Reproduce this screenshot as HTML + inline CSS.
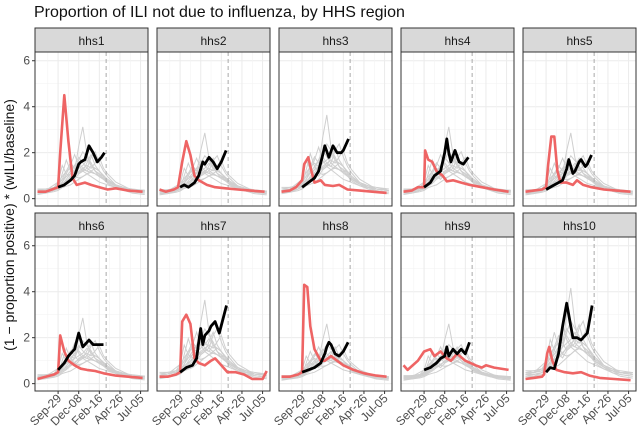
<!DOCTYPE html>
<html><head><meta charset="utf-8">
<style>
body{margin:0;background:#fff;font-family:"Liberation Sans",sans-serif;}
svg text{font-family:"Liberation Sans",sans-serif;}
</style></head>
<body>
<svg id="c" width="640" height="435" xmlns="http://www.w3.org/2000/svg">
<text x="34" y="17" font-size="16" fill="#111">Proportion of ILI not due to influenza, by HHS region</text>
<text transform="translate(14,225) rotate(-90)" text-anchor="middle" font-size="14" fill="#111">(1 − proportion positive) * (wILI/baseline)</text>
</svg>
<script>
const regions = ['hhs1','hhs2','hhs3','hhs4','hhs5','hhs6','hhs7','hhs8','hhs9','hhs10'];
const xTickWeeks = [0,10,20,30,40];
const xTickLabels = ['Sep-29','Dec-08','Feb-16','Apr-26','Jul-05'];
const yTicks = [0,2,4,6];
const dashWeek = 23.3;
const redSeries = [
 [[-10,.3],[-6,.3],[-3,.4],[0,.5],[1,2],[3,4.5],[5,2.5],[7,.9],[9,.6],[13,.7],[16,.6],[20,.5],[24,.4],[28,.45],[34,.35],[41,.3]],
 [[-10,.4],[-7,.3],[-3,.4],[-1,.5],[1,1.6],[3,2.5],[5,1.9],[7,1.0],[9,.8],[13,.6],[17,.5],[22,.45],[28,.4],[34,.35],[41,.3]],
 [[-10,.3],[-6,.35],[-3,.5],[0,.8],[1,1.5],[3,1.8],[4.5,1.2],[6,.7],[9,.8],[11,.6],[15,.55],[18,.6],[22,.4],[28,.35],[34,.3],[41,.25]],
 [[-10,.3],[-6,.35],[-3,.5],[0,.5],[0.5,2.1],[2,1.7],[4,1.6],[6,1.2],[9,1.0],[11,.75],[14,.8],[18,.7],[22,.6],[28,.5],[34,.4],[41,.3]],
 [[-10,.3],[-6,.35],[-2,.4],[0,.5],[1,1.5],[2.5,2.7],[4,2.7],[5.5,1.2],[7,.7],[10,.7],[13,.6],[15,.8],[18,.6],[22,.5],[28,.4],[34,.35],[41,.3]],
 [[-10,.2],[-6,.3],[-2,.4],[0,.5],[1,2.1],[3,1.4],[5,1.0],[8,.8],[11,.65],[14,.6],[18,.55],[22,.45],[28,.35],[34,.3],[41,.25]],
 [[-10,.3],[-6,.3],[-2,.4],[0,.5],[1,2.7],[3,3.0],[5,2.6],[7,1.1],[9,.9],[12,.8],[15,1.0],[17,1.1],[20,.8],[23,.5],[27,.5],[31,.4],[35,.2],[40,.2],[42,.55]],
 [[-10,.3],[-6,.3],[-2,.4],[0,.5],[1,4.3],[2.5,4.2],[4,2.5],[6,1.5],[9,1.0],[11,1.0],[14,1.2],[17,1.0],[20,.8],[25,.6],[30,.45],[36,.35],[41,.3]],
 [[-10,.8],[-8,.6],[-3,1.0],[0,1.4],[3,1.5],[5,1.2],[8,1.4],[11,1.1],[13,1.0],[16,1.3],[20,1.0],[25,.8],[28,.7],[30,.8],[34,.7],[41,.6]],
 [[-10,.2],[-6,.25],[-2,.3],[-1,.4],[0.5,1.3],[1.5,1.6],[3,1.0],[5,.6],[9,.5],[13,.45],[17,.5],[21,.35],[26,.25],[33,.2],[41,.15]]
];
const blackSeries = [
 [[0,.5],[3,.6],[6,.8],[8,1.0],[10,1.5],[11,1.6],[13,1.7],[15,2.3],[17,2.0],[19,1.6],[21,1.8],[22.5,2.0]],
 [[0,.5],[2,.6],[4,.5],[7,.7],[9,1.0],[11,1.6],[12,1.5],[14,1.8],[16,1.6],[18,1.3],[20,1.6],[22.3,2.1]],
 [[0,.5],[3,.7],[6,.9],[8,1.2],[10,1.9],[11,2.3],[13,1.8],[15,2.3],[17,2.0],[19,2.0],[20,2.1],[22.5,2.6]],
 [[0,.5],[3,.7],[5,1.0],[8,1.2],[10,2.0],[11,2.6],[12,2.0],[13,1.6],[15,2.1],[17,1.6],[19,1.5],[21.5,1.8]],
 [[0,.4],[3,.55],[6,.7],[8,.8],[10,1.3],[11,1.7],[13,1.1],[14,1.2],[16,1.6],[17,1.7],[19,1.4],[20,1.5],[22,1.9]],
 [[0,.6],[3,.9],[5,1.2],[7,1.4],[8,1.5],[10,2.2],[12,1.6],[14,1.8],[15,1.9],[17,1.7],[20,1.7],[22,1.7]],
 [[0,.5],[3,.7],[6,.8],[8,1.1],[9,1.8],[10,2.4],[11,1.7],[12,2.1],[14,2.3],[15,2.5],[17,2.7],[19,2.2],[22.5,3.4]],
 [[0,.5],[3,.6],[6,.7],[9,.9],[11,1.3],[12,1.6],[13,1.8],[14,1.7],[16,1.3],[18,1.2],[20,1.4],[22.3,1.8]],
 [[0,.6],[3,.7],[6,.9],[8,1.1],[10,1.2],[11,1.6],[12,1.2],[14,1.5],[16,1.3],[18,1.5],[20,1.3],[22,1.8]],
 [[0,.5],[2,.7],[4,.65],[6,1.3],[8,2.5],[10,3.5],[12,2.5],[13,2.0],[15,2.0],[17,1.9],[20,2.2],[22.3,3.4]]
];
const greyWeeks = [-10,-6,-2,0,2,4,6,8,10,12,14,16,18,20,22,24,28,32,36,42];
const greyShapes = [
 [.25,.3,.35,.5,.7,.8,.9,1.0,1.1,1.2,1.4,1.2,1.0,.9,.8,.6,.45,.35,.3,.25],
 [.2,.25,.3,.4,.5,.6,.8,1.0,1.4,1.7,1.5,1.3,1.0,.8,.7,.55,.4,.3,.25,.2],
 [.3,.3,.4,.6,1.2,.9,.8,.7,.9,1.0,1.1,1.5,1.7,1.3,1.0,.8,.5,.4,.3,.3],
 [.2,.2,.3,.35,.45,.55,.7,.8,1.0,1.1,1.2,1.1,1.3,1.5,1.1,.9,.6,.45,.3,.25],
 [.35,.35,.4,.45,.6,.9,1.2,1.6,1.2,1.0,.9,.8,.7,.6,.55,.5,.4,.35,.3,.3],
 [.15,.2,.25,.3,.4,.45,.5,.6,.7,.8,.9,.95,.9,.8,.7,.6,.45,.3,.2,.15],
 [.3,.3,.5,.6,.8,1.0,1.1,1.0,1.9,2.6,1.6,1.2,1.0,.9,.7,.6,.45,.35,.3,.3],
 [.25,.3,.35,.4,.6,.8,1.0,1.2,1.3,1.1,1.0,1.2,1.1,1.0,.85,.7,.5,.35,.3,.25],
 [.3,.35,.4,.5,.7,1.0,1.3,1.1,.9,1.0,1.3,1.6,1.2,1.0,.8,.65,.5,.4,.3,.3],
 [.2,.25,.3,.4,.5,.7,.9,1.2,1.5,1.3,1.1,1.0,.9,.85,.75,.6,.45,.35,.25,.2],
 [.3,.3,.35,.45,.55,.65,.75,.85,.95,1.05,1.0,.95,.9,.8,.7,.6,.5,.4,.35,.3],
 [.25,.25,.3,.4,.9,1.4,1.0,.8,.75,.8,.9,1.0,1.1,1.0,.8,.6,.45,.35,.3,.25]
];
const greyScale = [1.2,1.1,1.4,1.2,1.1,1.1,1.4,1.0,1.0,1.6];

const NS='http://www.w3.org/2000/svg';
const svg=document.getElementById('c');
function mk(t,a,p){const e=document.createElementNS(NS,t);for(const k in a)e.setAttribute(k,a[k]);(p||svg).appendChild(e);return e;}
const colX=[35,157,279,401,523], PW=113;
const rows=[{st:28,top:52,bot:206},{st:213,top:237,bot:391}];
const wMin=-11.2,wMax=43.6, vMin=-0.32, vMax=6.38;
for(let i=0;i<10;i++){
  const r=rows[Math.floor(i/5)], x0=colX[i%5];
  const g=mk('g',{});
  
  
  const X=w=>x0+(w-wMin)/(wMax-wMin)*PW;
  const Y=v=>r.bot-(v-vMin)/(vMax-vMin)*(r.bot-r.top);
  const strip=mk('rect',{x:x0,y:r.st,width:PW,height:r.top-r.st,fill:'#d9d9d9',stroke:'#333','stroke-width':1},g);
  
  
  const st=mk('text',{x:x0+PW/2,y:r.st+17,'text-anchor':'middle','font-size':12,fill:'#1a1a1a'},g);
  st.textContent=regions[i];
  
  
  mk('rect',{x:x0,y:r.top,width:PW,height:r.bot-r.top,fill:'#fff'},g);
  for(let k=0;k<yTicks.length;k++){
    mk('line',{x1:x0,x2:x0+PW,y1:Y(yTicks[k]),y2:Y(yTicks[k]),stroke:'#ebebeb','stroke-width':1},g);
    if(k<yTicks.length-1){const m=(yTicks[k]+yTicks[k+1])/2;mk('line',{x1:x0,x2:x0+PW,y1:Y(m),y2:Y(m),stroke:'#f3f3f3','stroke-width':.6},g);}
  }
  for(let k=-1;k<xTickWeeks.length;k++){
    const m=(k<0?xTickWeeks[0]-5:xTickWeeks[k]+5);
    if(m>wMin&&m<wMax)mk('line',{x1:X(m),x2:X(m),y1:r.top,y2:r.bot,stroke:'#f3f3f3','stroke-width':.6},g);
    if(k>=0)mk('line',{x1:X(xTickWeeks[k]),x2:X(xTickWeeks[k]),y1:r.top,y2:r.bot,stroke:'#ebebeb','stroke-width':1},g);
  }
  for(let s=0;s<greyShapes.length;s++){
    const d=greyShapes[s].map((v,j)=>(j?'L':'M')+X(greyWeeks[j]).toFixed(1)+','+Y(v*greyScale[i]).toFixed(1)).join('');
    const p=mk('path',{d:d,fill:'none',stroke:'#cfcfcf','stroke-width':1},g);
    
    
  }
  const dl=mk('line',{x1:X(dashWeek),x2:X(dashWeek),y1:r.top,y2:r.bot,stroke:'#aaa','stroke-width':1,'stroke-dasharray':'4,3'},g);
  
  
  const rd=redSeries[i].map((p,j)=>(j?'L':'M')+X(p[0]).toFixed(1)+','+Y(p[1]).toFixed(1)).join('');
  const rp=mk('path',{d:rd,fill:'none',stroke:'#ee6464','stroke-width':2.6,'stroke-linejoin':'round'},g);
  
  
  const bd=blackSeries[i].map((p,j)=>(j?'L':'M')+X(p[0]).toFixed(1)+','+Y(p[1]).toFixed(1)).join('');
  const bp=mk('path',{d:bd,fill:'none',stroke:'#000','stroke-width':2.8,'stroke-linejoin':'round'},g);
  
  
  mk('rect',{x:x0,y:r.top,width:PW,height:r.bot-r.top,fill:'none',stroke:'#333','stroke-width':1},g);
  if(i%5===0){
    yTicks.forEach(t=>{
      mk('line',{x1:x0-3,x2:x0,y1:Y(t),y2:Y(t),stroke:'#333'},g);
      const tx=mk('text',{x:x0-5,y:Y(t)+4,'text-anchor':'end','font-size':12,fill:'#4d4d4d'},g);
      tx.textContent=t;
      
      
    });
  }
  if(i>=5){
    xTickWeeks.forEach((w,k)=>{
      mk('line',{x1:X(w),x2:X(w),y1:r.bot,y2:r.bot+3,stroke:'#333'},g);
      const tx=mk('text',{transform:'translate('+(X(w)+4)+','+(r.bot+8)+') rotate(-45)','text-anchor':'end','font-size':12,fill:'#4d4d4d'},g);
      tx.textContent=xTickLabels[k];
      
      
    });
  }
}
</script>
</body></html>
